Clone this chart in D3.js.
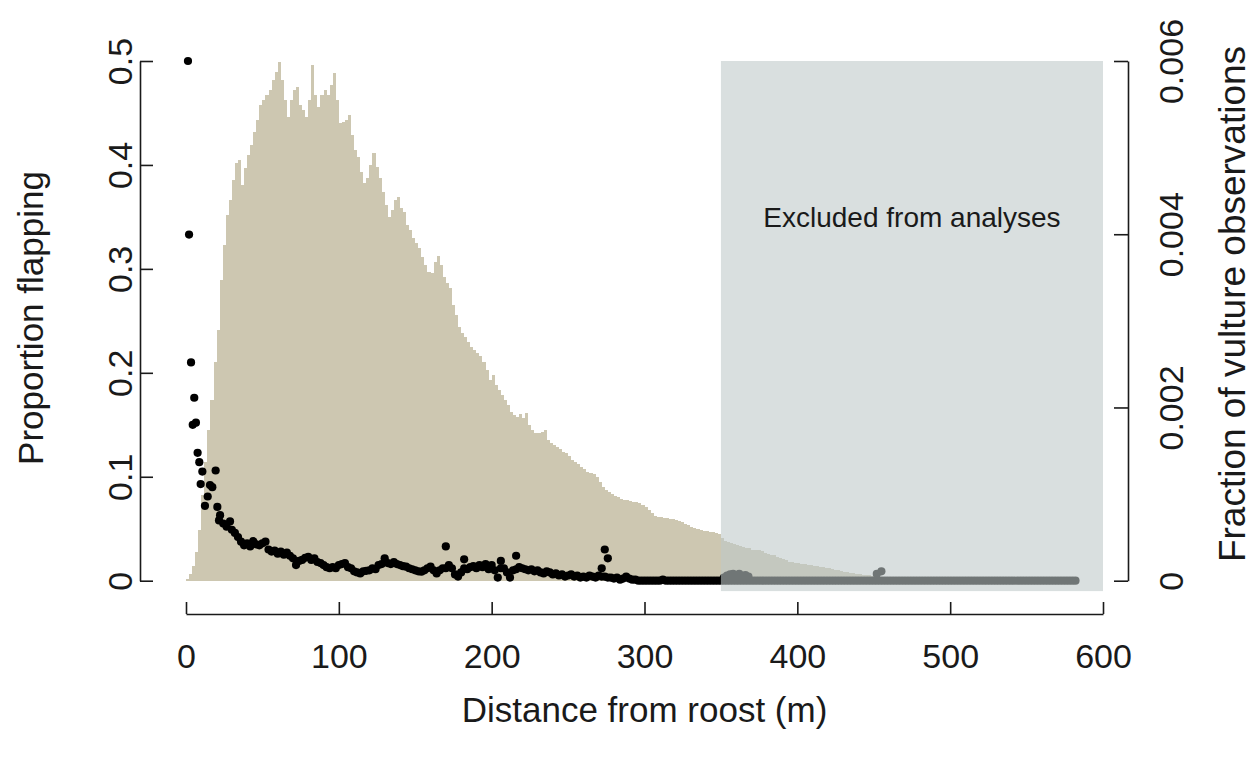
<!DOCTYPE html>
<html>
<head>
<meta charset="utf-8">
<title>Proportion flapping vs distance from roost</title>
<script src="https://cdn.jsdelivr.net/npm/d3@7"></script>
<style>
  html, body { margin: 0; padding: 0; background: #fff; }
  svg { display: block; font-family: "Liberation Sans", Arial, Helvetica, sans-serif; }
</style>
</head>
<body>
<div id="chart"></div>
<script>
// fraction of vulture observations, 2 m bins starting at 0 m
const histBinWidth = 2;
const histFraction = [
  0.00002,0.00008,0.00017,0.00033,0.00059,0.00099,0.00137,0.00174,0.00209,0.00252,
  0.00289,0.00347,0.00388,0.00422,0.00440,0.00463,0.00482,0.00486,0.00457,0.00476,
  0.00491,0.00503,0.00518,0.00532,0.00549,0.00555,0.00561,0.00567,0.00578,0.00587,
  0.00599,0.00578,0.00555,0.00535,0.00555,0.00567,0.00570,0.00549,0.00543,0.00535,
  0.00555,0.00595,0.00561,0.00547,0.00561,0.00567,0.00561,0.00572,0.00586,0.00555,
  0.00528,0.00530,0.00532,0.00538,0.00515,0.00497,0.00489,0.00472,0.00459,0.00465,
  0.00480,0.00494,0.00478,0.00465,0.00449,0.00434,0.00420,0.00428,0.00440,0.00443,
  0.00430,0.00426,0.00411,0.00405,0.00396,0.00390,0.00384,0.00374,0.00364,0.00356,
  0.00355,0.00368,0.00375,0.00364,0.00351,0.00344,0.00338,0.00318,0.00307,0.00293,
  0.00286,0.00281,0.00276,0.00270,0.00266,0.00263,0.00259,0.00252,0.00243,0.00232,
  0.00237,0.00226,0.00220,0.00214,0.00209,0.00203,0.00195,0.00191,0.00189,0.00192,
  0.00188,0.00194,0.00180,0.00174,0.00171,0.00171,0.00172,0.00174,0.00162,0.00159,
  0.00157,0.00154,0.00152,0.00149,0.00147,0.00144,0.00139,0.00137,0.00135,0.00131,
  0.00129,0.00126,0.00124,0.00123,0.00120,0.00114,0.00108,0.00105,0.00102,0.00100,
  0.00098,0.00097,0.00094,0.00093,0.00093,0.00092,0.00091,0.00091,0.00090,0.00087,
  0.00085,0.00082,0.00078,0.00075,0.00074,0.00074,0.00072,0.00072,0.00071,0.00071,
  0.00070,0.00069,0.00068,0.00066,0.00064,0.00062,0.00061,0.00060,0.00059,0.00057,
  0.00057,0.00056,0.00056,0.00055,0.00054,0.00049,0.00046,0.00045,0.00044,0.00042,
  0.00041,0.00040,0.00039,0.00038,0.00038,0.00036,0.00036,0.00035,0.00034,0.00032,
  0.00031,0.00030,0.00030,0.00027,0.00026,0.00025,0.00024,0.00022,0.00022,0.00021,
  0.00020,0.00019,0.00019,0.00018,0.00018,0.00017,0.00017,0.00016,0.00016,0.00015,
  0.00015,0.00014,0.00012,0.00012,0.00011,0.00010,0.00010,0.00009,0.00009,0.00008,
  0.00008,0.00007,0.00007,0.00007,0.00005,0.00005,0.00004,0.00004,0.00004,0.00003,
  0.00003,0.00003,0.00002,0.00002,0.00001,0.00001,0.00001,0.00001,0.00001,0.00001,
  0.00001,0.00001,0.00001,0.00001,0,0.00001,0,0,0.00001,0,
  0,0,0.00001,0,0,0,0,0,0,0
];

// proportion flapping, first metres (read point by point)
const flapEarlyDistance = [1.3, 2, 3.3, 4.4, 5.4, 6.5, 7.6, 8.7, 9.6, 10.7, 12.4, 14.2, 15.7, 17.2, 19.4, 20.5, 21.6, 22.3, 24.4, 26.6, 28.8];
const flapEarlyProp     = [0.5, 0.333, 0.21, 0.150, 0.176, 0.152, 0.123, 0.114, 0.093, 0.105, 0.072, 0.081, 0.092, 0.090, 0.106, 0.071, 0.058, 0.063, 0.055, 0.052, 0.057];

// proportion flapping from 30 m on, every 2 m
const flapStart = 30;
const flapStep = 2;
const flapProp = [
  0.049,0.046,0.042,0.0375,0.034,0.036,0.033,0.038,0.035,0.034,
  0.036,0.0375,0.030,0.028,0.029,0.026,0.028,0.025,0.027,0.024,
  0.0215,0.015,0.019,0.020,0.022,0.023,0.020,0.0215,0.018,0.017,
  0.015,0.013,0.012,0.013,0.012,0.015,0.016,0.017,0.013,0.012,
  0.009,0.008,0.007,0.009,0.0095,0.010,0.012,0.011,0.015,0.016,
  0.0215,0.017,0.016,0.018,0.016,0.015,0.014,0.0135,0.012,0.011,
  0.010,0.009,0.0087,0.010,0.012,0.0135,0.010,0.007,0.010,0.012,
  0.012,0.015,0.012,0.006,0.004,0.008,0.012,0.011,0.013,0.014,
  0.012,0.015,0.013,0.016,0.011,0.015,0.010,0.003,0.012,0.012,
  0.008,0.003,0.010,0.011,0.013,0.012,0.011,0.010,0.011,0.009,
  0.010,0.008,0.007,0.009,0.008,0.006,0.007,0.005,0.006,0.004,
  0.005,0.006,0.004,0.005,0.003,0.004,0.003,0.005,0.004,0.003,
  0.005,0.004,0.004,0.003,0.003,0.002,0.003,0.001,0.002,0.004,
  0.002,0.001,0.001,0,0,0,0,0,0,0,
  0,0.001,0,0,0,0,0,0,0,0,
  0,0,0,0,0,0,0,0,0,0,
  0,0,0,0,0,0,0,0,0,0,
  0,0,0,0,0,0,0,0,0,0,
  0,0,0,0,0,0,0,0,0,0,
  0,0,0,0,0,0,0,0,0,0,
  0,0,0,0,0,0,0,0,0,0,
  0,0,0,0,0,0,0,0,0,0,
  0,0,0,0,0,0,0,0,0,0,
  0,0,0,0,0,0,0,0,0,0,
  0,0,0,0,0,0,0,0,0,0,
  0,0,0,0,0,0,0,0,0,0,
  0,0,0,0,0,0,0,0,0,0,
  0,0,0,0,0,0,0
];

// proportion flapping, points sitting above the main band
const flapExtraDistance = [170, 182, 206, 216, 272, 274, 276, 352, 354, 356, 358, 362, 366, 368, 452, 455];
const flapExtraProp     = [0.033, 0.0206, 0.019, 0.024, 0.012, 0.030, 0.0215, 0.003, 0.005, 0.006, 0.0065, 0.0065, 0.0055, 0.004, 0.0065, 0.009];

// excluded zone (m, proportion)
const excludedRange = [350, 600];
const excludedProp = [-0.01, 0.5];
const excludedLabel = "Excluded from analyses";

const xTicks = [0, 100, 200, 300, 400, 500, 600];
const leftTicks = [0, 0.1, 0.2, 0.3, 0.4, 0.5];
const rightTicks = [0, 0.002, 0.004, 0.006];

// ---- layout ----
const width = 1254, height = 757;
const fontSize = 34;

const x = d3.scaleLinear().domain([0, 600]).range([186, 1103]);
const yLeft = d3.scaleLinear().domain([0, 0.5]).range([580.7, 61]);
const yRight = d3.scaleLinear().domain([0, 0.006]).range([580.7, 61]);

const svg = d3.select("#chart").append("svg")
  .attr("width", width)
  .attr("height", height);

// histogram (step outline filled)
const histData = histFraction.map((v, i) => ({ d: i * histBinWidth, v }));
histData.push({ d: histFraction.length * histBinWidth, v: 0 });

const area = d3.area()
  .curve(d3.curveStepAfter)
  .x(p => x(p.d))
  .y0(yRight(0))
  .y1(p => yRight(p.v));

svg.append("path")
  .datum(histData)
  .attr("d", area)
  .attr("fill", "#cdc7b1")
  .attr("shape-rendering", "crispEdges");

// points
const flapData = flapEarlyDistance.map((d, i) => ({ d, p: flapEarlyProp[i] }))
  .concat(flapProp.map((p, i) => ({ d: flapStart + i * flapStep, p })))
  .concat(flapExtraDistance.map((d, i) => ({ d, p: flapExtraProp[i] })));

svg.append("g")
  .selectAll("circle")
  .data(flapData)
  .join("circle")
  .attr("cx", p => x(p.d))
  .attr("cy", p => yLeft(p.p))
  .attr("r", 4.1)
  .attr("fill", "#000");

// excluded zone, translucent over bars and points
svg.append("rect")
  .attr("x", x(excludedRange[0]))
  .attr("y", yLeft(excludedProp[1]))
  .attr("width", x(excludedRange[1]) - x(excludedRange[0]))
  .attr("height", yLeft(excludedProp[0]) - yLeft(excludedProp[1]))
  .attr("fill", "rgb(190,200,200)")
  .attr("fill-opacity", 0.59);

svg.append("text")
  .attr("x", x((excludedRange[0] + excludedRange[1]) / 2))
  .attr("y", yLeft(0.34))
  .attr("text-anchor", "middle")
  .attr("font-size", 28)
  .attr("fill", "#1a1a1a")
  .text(excludedLabel);

// ---- axes ----
function styleAxis(g) {
  g.selectAll("path, line").attr("stroke", "#1a1a1a").attr("stroke-width", 1.6);
  g.selectAll("text").attr("font-size", fontSize).attr("fill", "#1a1a1a")
    .attr("font-family", "\"Liberation Sans\", Arial, sans-serif");
}

const fmtLeft = d => d === 0 ? "0" : d3.format(".1f")(d);
const fmtRight = d => d === 0 ? "0" : d3.format(".3f")(d);

const gx = svg.append("g")
  .attr("transform", "translate(0,614)")
  .call(d3.axisBottom(x).tickValues(xTicks).tickSizeInner(-12).tickSizeOuter(0).tickFormat(d3.format("d")));
gx.selectAll(".tick text").attr("y", 54).attr("dy", 0);
styleAxis(gx);

const gl = svg.append("g")
  .attr("transform", "translate(140,0)")
  .call(d3.axisLeft(yLeft).tickValues(leftTicks).tickSizeInner(-13).tickSizeOuter(0).tickFormat(fmtLeft));
gl.selectAll(".tick text")
  .attr("x", 0).attr("dy", 0)
  .attr("text-anchor", "middle")
  .attr("transform", "translate(-8,0) rotate(-90)");
styleAxis(gl);

const gr = svg.append("g")
  .attr("transform", "translate(1128,0)")
  .call(d3.axisRight(yRight).tickValues(rightTicks).tickSizeInner(-14).tickSizeOuter(0).tickFormat(fmtRight));
gr.selectAll(".tick text")
  .attr("x", 0).attr("dy", 0)
  .attr("text-anchor", "middle")
  .attr("transform", "translate(55,0) rotate(-90)");
styleAxis(gr);

// axis titles
svg.append("text")
  .attr("x", (x(0) + x(600)) / 2)
  .attr("y", 722)
  .attr("text-anchor", "middle")
  .attr("font-size", 35)
  .attr("fill", "#1a1a1a")
  .text("Distance from roost (m)");

svg.append("text")
  .attr("transform", "translate(43,318) rotate(-90)")
  .attr("text-anchor", "middle")
  .attr("font-size", 35)
  .attr("fill", "#1a1a1a")
  .text("Proportion flapping");

svg.append("text")
  .attr("transform", "translate(1245,304) rotate(-90)")
  .attr("text-anchor", "middle")
  .attr("font-size", 37)
  .attr("fill", "#1a1a1a")
  .text("Fraction of vulture observations");
</script>
</body>
</html>
